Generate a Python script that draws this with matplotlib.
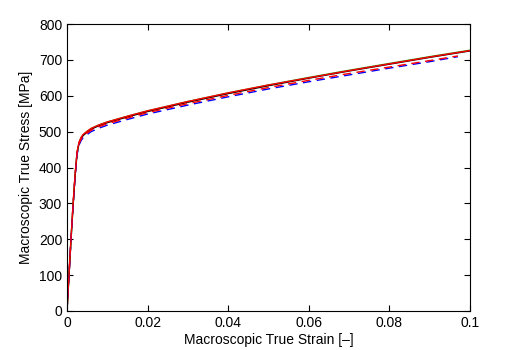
import matplotlib
matplotlib.use("Agg")
import matplotlib.pyplot as plt

plt.rcParams['font.family'] = ['Liberation Sans', 'DejaVu Sans']

strain = [0, 0.0005, 0.001, 0.0015, 0.002, 0.0025, 0.003, 0.0035, 0.004, 0.005, 0.006, 0.008,
          0.01, 0.015, 0.02, 0.03, 0.04, 0.05, 0.06, 0.07, 0.08, 0.09, 0.1]
stress_black = [0, 100, 200, 292, 375, 440, 468, 481, 489, 499, 507, 517,
                525, 541, 556, 582, 606, 628, 649, 669, 688, 707, 725]
stress_green = [0, 100, 200, 294, 377, 442, 470, 483, 491, 501, 509, 519,
                527, 543, 558, 584, 608, 630, 651, 671, 690, 709, 727]
stress_red = [0, 102, 205, 297, 380, 444, 471, 484, 492, 501, 509, 519,
              527, 543, 558, 584, 608, 630, 650, 670, 689, 708, 726]

strain_d = [0, 0.0005, 0.001, 0.0015, 0.002, 0.0025, 0.003, 0.0035, 0.004, 0.005, 0.006, 0.008,
            0.01, 0.015, 0.02, 0.03, 0.04, 0.05, 0.06, 0.07, 0.08, 0.09, 0.097]
stress_red_d = [0, 101, 202, 294, 377, 440, 467, 479, 487, 496, 504, 514,
                522, 538, 553, 578, 601, 623, 643, 662, 680, 698, 711]
stress_blue_d = [0, 100, 200, 291, 373, 436, 463, 475, 483, 492, 500, 510,
                 518, 534, 549, 574, 597, 619, 639, 658, 677, 695, 709]

fig = plt.figure(figsize=(5.18, 3.5), dpi=100)
ax = fig.add_axes([67 / 518, 1 - 311 / 350, (470 - 67) / 518, (311 - 24) / 350])

ax.plot(strain, stress_green, color='#22aa22', lw=1.0)
ax.plot(strain, stress_black, color='black', lw=1.0)
ax.plot(strain, stress_red, color='red', lw=1.0)
ax.plot(strain_d, stress_blue_d, color='blue', lw=1.0, ls=(0, (6, 4)))
ax.plot(strain_d, stress_red_d, color='red', lw=1.0, ls=(0, (6, 4)))

ax.set_xlim(0, 0.1)
ax.set_ylim(0, 800)
ax.set_xticks([0, 0.02, 0.04, 0.06, 0.08, 0.1])
ax.set_xticklabels(['0', '0.02', '0.04', '0.06', '0.08', '0.1'])
ax.set_yticks(range(0, 801, 100))
ax.tick_params(direction='in', top=True, right=True, labelsize=10, length=4)
ax.set_xlabel('Macroscopic True Strain [\u2013]', fontsize=10, labelpad=2)
ax.set_ylabel('Macroscopic True Stress [MPa]', fontsize=10, labelpad=4)

fig.savefig('out.png', dpi=100)
